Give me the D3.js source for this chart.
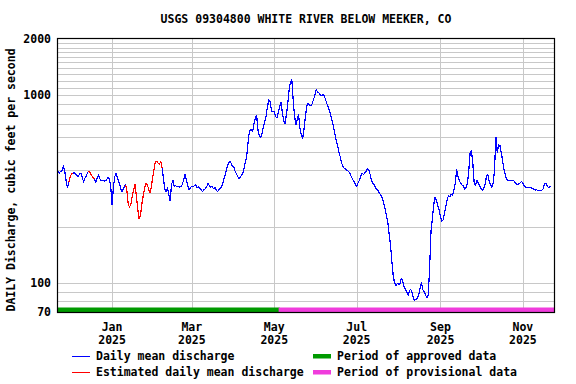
<!DOCTYPE html>
<html><head><meta charset="utf-8">
<script src="https://cdn.jsdelivr.net/npm/d3@7"></script>
<style>
html,body{margin:0;padding:0;background:#fff;}
svg{display:block;}
text{font-family:"DejaVu Sans Mono",monospace;font-weight:bold;font-size:11.5px;fill:#000;}
</style></head><body>
<svg id="chart" width="576" height="384"></svg>
<script>
const title = "USGS 09304800 WHITE RIVER BELOW MEEKER, CO";
const yAxisLabel = "DAILY Discharge, cubic feet per second";
const startDate = "2024-11-22";
// daily mean discharge (cfs), one value per day starting at startDate
const dailyMeanCfs = [
395,386,395,395,420,395,350,323,345,370,
380,386,386,383,374,370,383,386,363,345,
363,374,390,395,383,374,363,359,345,363,
378,359,350,353,350,350,356,367,359,328,
262,322,370,383,363,345,328,306,313,325,
335,309,262,254,266,290,315,335,290,247,
220,229,262,290,318,339,335,318,302,322,
363,403,441,445,437,428,445,411,363,318,
306,322,297,274,335,353,325,331,325,328,
325,328,335,356,378,356,331,313,322,328,
325,331,333,322,325,320,313,306,315,318,
325,339,331,325,328,318,323,315,306,315,
318,325,342,363,383,411,433,445,437,420,
416,395,383,370,359,367,378,390,420,450,
502,602,649,657,641,707,761,780,650,610,
595,625,682,727,780,870,948,925,822,819,
819,770,761,809,870,914,809,733,707,790,
903,1072,1182,1211,948,780,698,742,790,673,
617,588,657,761,881,903,892,881,903,948,
1000,1072,1046,1033,1008,1000,1008,1000,948,903,
860,822,770,724,673,617,569,533,496,466,
433,414,408,403,398,393,383,370,357,348,
335,328,342,353,370,386,378,386,395,407,
400,378,353,339,333,322,315,309,300,293,
282,266,250,229,211,182,161,131,110,100,
97,99,98.6,98.6,106,103,96,93,90,86,
90.5,92.7,88.3,82.5,81,82,83.5,87,94,100,
92,89.5,86,83.5,86,122,189,220,262,285,
276,259,245,227,214,217,235,257,279,293,
288,297,293,313,342,403,370,350,339,333,
328,315,325,342,403,496,505,428,335,331,
353,342,331,318,313,318,335,370,378,350,
335,322,342,403,600,496,547,540,496,446,
403,378,356,353,351,353,350,353,345,339,
335,338,342,348,339,328,325,324,324,322,
322,320,315,313,315,311,311,311,313,318,
338,339,328,322,328,324
];
const estimatedRanges = [
  ["2024-12-01","2024-12-02"],
  ["2024-12-15","2024-12-18"],
  ["2025-01-12","2025-02-06"]
];
const approvalPeriods = [
  {status:"approved",    start:"2024-11-22", end:"2025-05-05"},
  {status:"provisional", start:"2025-05-05", end:"2025-11-24"}
];
const xDomain = ["2024-11-22","2025-11-24"];
const yDomain = [70, 2000];
const yTickLabels = [70, 100, 1000, 2000];
const yGridValues = [80,90,100,200,300,400,500,600,700,800,900,1000,1100,1200,1300,1400,1500,1600,1700,1800,1900];
const xTickDates = ["2025-01-01","2025-03-01","2025-05-01","2025-07-01","2025-09-01","2025-11-01"];
const legendLabels = ["Daily mean discharge","Estimated daily mean discharge","Period of approved data","Period of provisional data"];

// ---------- styles / layout ----------
const COL = {daily:"#0000ff", est:"#ff0000", approved:"#009a00", provisional:"#f03cdc", grid:"#c8c8c8"};
const M = {left:58, right:554, top:39, bottom:312};

const parse = d3.utcParse("%Y-%m-%d");
const svg = d3.select("#chart");
const x = d3.scaleUtc().domain(xDomain.map(parse)).range([M.left, M.right]);
const y = d3.scaleLog().domain(yDomain).range([M.bottom, M.top]);

const start = parse(startDate);
const data = dailyMeanCfs.map((v,i)=>({date:d3.utcDay.offset(start,i), value:v}));
const estRanges = estimatedRanges.map(r=>[parse(r[0]), parse(r[1])]);
const isEst = d => estRanges.some(r => d >= r[0] && d <= r[1]);
data.forEach(d => d.est = isEst(d.date));

// grid
const g = svg.append("g");
g.selectAll("line.h").data(yGridValues).join("line")
  .attr("x1",M.left).attr("x2",M.right)
  .attr("y1",d=>Math.round(y(d))+0.5).attr("y2",d=>Math.round(y(d))+0.5)
  .attr("stroke",COL.grid).attr("stroke-width",1);
g.selectAll("line.v").data(xTickDates.map(parse)).join("line")
  .attr("x1",d=>Math.round(x(d))+0.5).attr("x2",d=>Math.round(x(d))+0.5)
  .attr("y1",M.top).attr("y2",M.bottom)
  .attr("stroke",COL.grid).attr("stroke-width",1);

// approval bars
svg.selectAll("rect.per").data(approvalPeriods).join("rect")
  .attr("x",d=>x(parse(d.start))-1).attr("width",d=>x(parse(d.end))-x(parse(d.start))+1)
  .attr("y",M.bottom-4.5).attr("height",4.5)
  .attr("fill",d=>d.status==="approved"?COL.approved:COL.provisional);

// data line segments
const line = d3.line().x(d=>x(d.date)).y(d=>y(d.value));
const runs = [];
for (let i=0;i<data.length-1;i++){
  const c = (data[i].est || data[i+1].est) ? COL.est : COL.daily;
  if (runs.length && runs[runs.length-1].c===c) runs[runs.length-1].pts.push(data[i+1]);
  else runs.push({c, pts:[data[i], data[i+1]]});
}
svg.append("g").selectAll("path").data(runs).join("path")
  .attr("d",d=>line(d.pts)).attr("fill","none")
  .attr("stroke",d=>d.c).attr("stroke-width",1.2)
  .attr("shape-rendering","crispEdges")
  .attr("stroke-linejoin","round");

// frame
svg.append("rect").attr("x",M.left-0.5).attr("y",M.top-0.5)
  .attr("width",M.right-M.left+1).attr("height",M.bottom-M.top+1)
  .attr("fill","none").attr("stroke","#000").attr("stroke-width",1.2);

// y tick labels
svg.selectAll("text.yt").data(yTickLabels).join("text")
  .attr("x",51).attr("y",d=>y(d)+4).attr("text-anchor","end").text(d=>d);

// x tick labels
const fm = d3.utcFormat("%b"), fy = d3.utcFormat("%Y");
const xt = svg.selectAll("g.xt").data(xTickDates.map(parse)).join("g")
  .attr("transform",d=>`translate(${x(d)},0)`);
xt.append("text").attr("y",331).attr("text-anchor","middle").text(d=>fm(d));
xt.append("text").attr("y",343.5).attr("text-anchor","middle").text(d=>fy(d));

// title & y label
svg.append("text").attr("x",(M.left+M.right)/2).attr("y",23).attr("text-anchor","middle").text(title);
svg.append("text").attr("transform","translate(15,180) rotate(-90)").attr("text-anchor","middle").text(yAxisLabel);

// legend
const lg = svg.append("g");
lg.append("line").attr("x1",72).attr("x2",90).attr("y1",356.5).attr("y2",356.5).attr("stroke",COL.daily);
lg.append("line").attr("x1",72).attr("x2",90).attr("y1",372.5).attr("y2",372.5).attr("stroke",COL.est);
lg.append("rect").attr("x",313).attr("y",354).attr("width",18).attr("height",4.5).attr("fill",COL.approved);
lg.append("rect").attr("x",313).attr("y",370).attr("width",18).attr("height",4.5).attr("fill",COL.provisional);
lg.append("text").attr("x",96).attr("y",360).text(legendLabels[0]);
lg.append("text").attr("x",96).attr("y",376).text(legendLabels[1]);
lg.append("text").attr("x",337).attr("y",360).text(legendLabels[2]);
lg.append("text").attr("x",337).attr("y",376).text(legendLabels[3]);
</script>
</body></html>
